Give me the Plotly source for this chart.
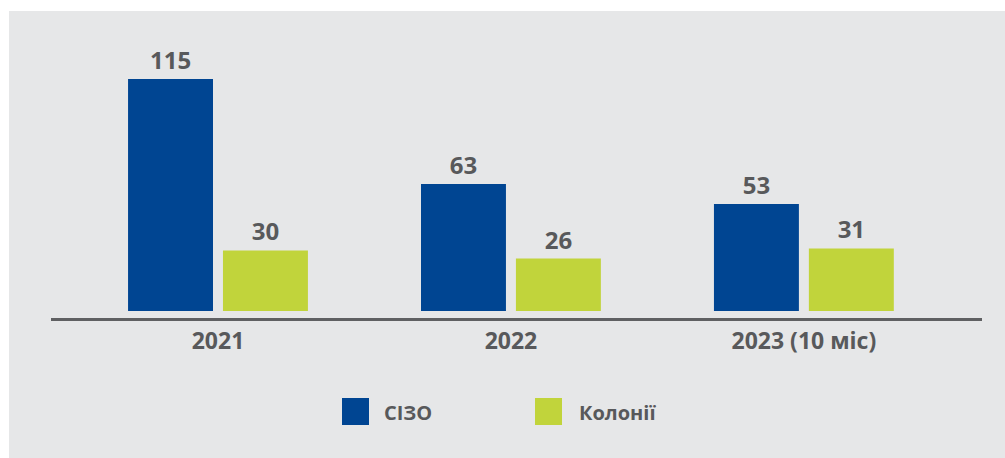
import plotly.graph_objects as go

# data
years = ["2021", "2022", "2023 (10 міс)"]
sizo = [115, 63, 53]
colonies = [30, 26, 31]
series_names = ["СІЗО", "Колонії"]
series_colors = ["#004592", "#c1d43b"]

W, H = 1005, 458
L, R, T, B = 51, 23, 40, 140
plot_w = W - L - R
plot_h = H - T - B
px_per_unit = 2.017
y_min = -7 / px_per_unit
y_max = y_min + plot_h / px_per_unit


def px_x(px):
    return (px - L) / plot_w


def px_y(py):
    return (H - B - py) / plot_h


text_color = "#58595b"
font_family = "Open Sans, Arial, sans-serif"

fig = go.Figure()
for name, vals, col in zip(series_names, [sizo, colonies], series_colors):
    fig.add_trace(go.Bar(
        x=years,
        y=vals,
        name=name,
        marker=dict(color=col, line=dict(width=0)),
        text=[str(v) for v in vals],
        textposition="outside",
        textfont=dict(size=24, color=text_color, family=font_family, weight="bold"),
        cliponaxis=False,
    ))

shapes = [
    # grey panel
    dict(type="rect", xref="paper", yref="paper",
         x0=px_x(9), x1=px_x(W + 20), y0=px_y(H + 20), y1=px_y(11),
         fillcolor="#e6e7e8", line=dict(width=0), layer="below"),
]
annotations = []

# custom legend
legend_pos = [(342, 382), (535, 577)]
for (sq_x, tx_x), name, col in zip(legend_pos, series_names, series_colors):
    shapes.append(dict(type="rect", xref="paper", yref="paper",
                       x0=px_x(sq_x), x1=px_x(sq_x + 27),
                       y0=px_y(425), y1=px_y(398),
                       fillcolor=col, line=dict(width=0)))
    annotations.append(dict(x=px_x(tx_x), y=px_y(412), xref="paper", yref="paper",
                            text=f"<b>{name}</b>", showarrow=False,
                            xanchor="left", yanchor="middle",
                            font=dict(size=20, color=text_color, family=font_family)))

fig.update_layout(
    width=W, height=H,
    margin=dict(l=L, r=R, t=T, b=B),
    paper_bgcolor="white",
    plot_bgcolor="rgba(0,0,0,0)",
    barmode="group",
    bargap=0.352,
    bargroupgap=0.105,
    showlegend=False,
    shapes=shapes,
    annotations=annotations,
    xaxis=dict(
        type="category",
        range=[-0.57, 2.608],
        showline=True, linecolor="#5f6062", linewidth=3,
        showgrid=False, ticks="",
        tickfont=dict(size=23, color=text_color, family=font_family, weight="bold"),
        fixedrange=True,
    ),
    yaxis=dict(
        range=[y_min, y_max],
        visible=False,
        showgrid=False, zeroline=False,
        fixedrange=True,
    ),
)

fig.write_html("out.html", config={"displayModeBar": False},
               post_script="document.body.style.margin='0';")
